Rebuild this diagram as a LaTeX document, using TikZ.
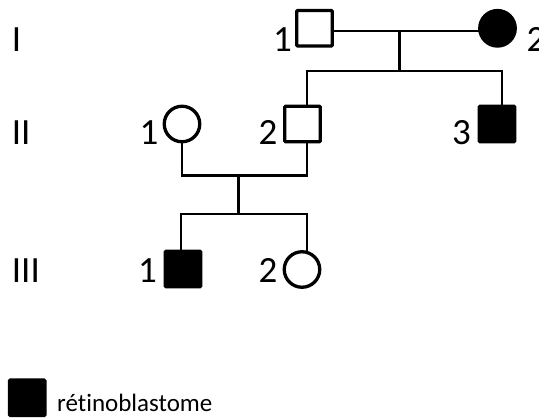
\documentclass[tikz,border=0pt]{standalone}
\usepackage{fontspec}
\setmainfont{Carlito}[Ligatures={NoCommon,NoContextual}]
\usetikzlibrary{backgrounds}
\begin{document}
\begin{tikzpicture}[x=1pt,y=-1pt,
  sq/.style={draw, line width=3.3pt, rectangle, minimum size=35.5pt, inner sep=0pt, fill=white, rounded corners=1pt},
  sqa/.style={sq, fill=black},
  ci/.style={draw, line width=3.3pt, circle, minimum size=35.5pt, inner sep=0pt, fill=white},
  cia/.style={ci, fill=black},
  ln/.style={line width=2.4pt},
  lab/.style={inner sep=0pt, font=\fontsize{37}{44}\selectfont},
  legt/.style={inner sep=0pt, font=\fontsize{25}{30}\selectfont},
]
\useasboundingbox (0,0) rectangle (539,418);
% individuals
\node[sq]  (i1)   at (314.5,28.3) {};
\node[cia] (i2)   at (497.5,28.3) {};
\node[ci]  (ii1)  at (182,124) {};
\node[sq]  (ii2)  at (302.5,124) {};
\node[sqa] (ii3)  at (497,124) {};
\node[sqa] (iii1) at (183,269) {};
\node[ci]  (iii2) at (302,269.5) {};
% junction points
\coordinate (m1) at (399.4,31);
\coordinate (s1) at (399.4,70.8);
\coordinate (m2) at (238.3,175.5);
\coordinate (s2) at (238.3,214);
% connectors
\begin{scope}[on background layer]
\draw[ln] (i1.center |- m1) -- (i2.center |- m1);
\draw[ln] (m1) -- (s1);
\draw[ln] ([xshift=4.2pt]ii2.center) |- (s1) -| ([xshift=4.7pt]ii3.center);
\draw[ln] (ii1.center) |- (m2) -| ([xshift=4.2pt]ii2.center);
\draw[ln] (m2) -- (s2);
\draw[ln] ([xshift=-2.3pt]iii1.center) |- (s2) -| ([xshift=4.7pt]iii2.center);
\end{scope}
% generation labels
\node[lab, anchor=base west] (g1) at (11.7,51) {I};
\node[lab, anchor=base west] (g2) at (11.7,144) {II};
\node[lab, anchor=base west] (g3) at (11.7,282) {III};
% individual numbers
\node[lab, anchor=base east] (n11) at (292,51) {1};
\node[lab, anchor=base west] (n12) at (526.5,51) {2};
\node[lab, anchor=base east] (n21) at (158.5,144) {1};
\node[lab, anchor=base east] (n22) at (277.5,144) {2};
\node[lab, anchor=base east] (n23) at (471,144) {3};
\node[lab, anchor=base east] (n31) at (157,282) {1};
\node[lab, anchor=base east] (n32) at (277.5,282) {2};
% legend
\node[sqa] (leg) at (27.2,397.8) {};
\node[legt, anchor=base west] (legtext) at (57,411.8) {rétinoblastome};
\end{tikzpicture}
\end{document}
